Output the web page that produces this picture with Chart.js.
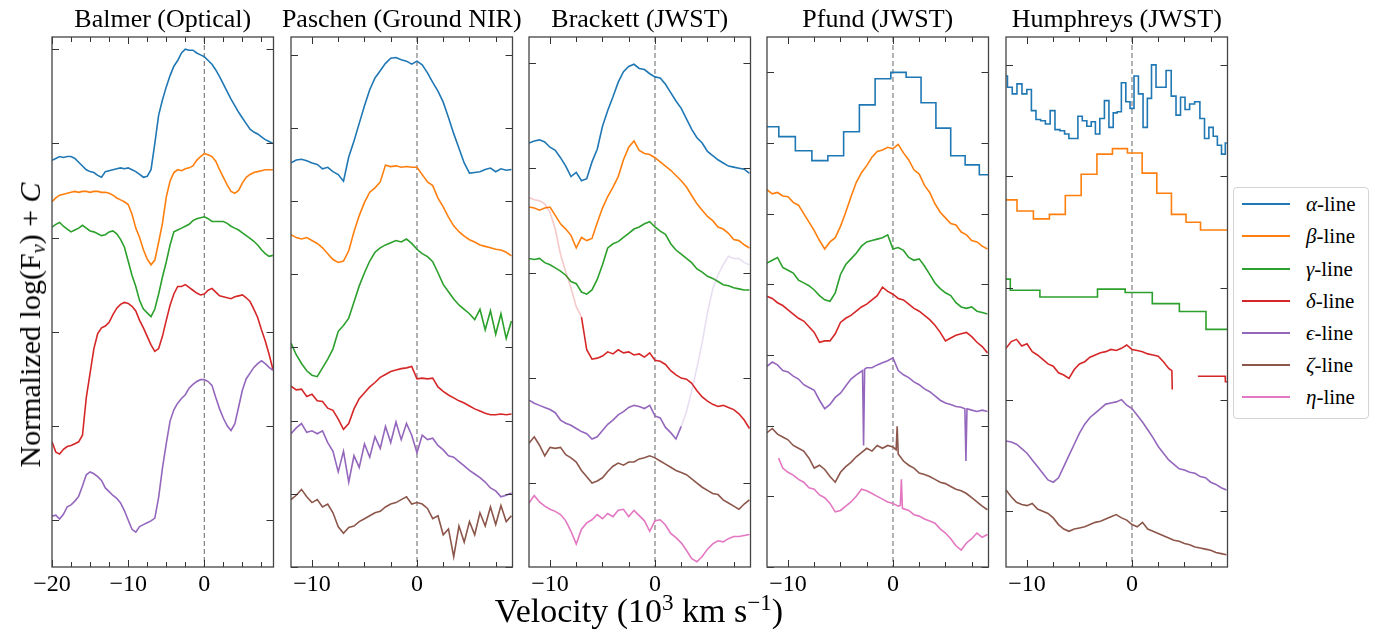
<!DOCTYPE html>
<html>
<head>
<meta charset="utf-8">
<script src="https://cdn.jsdelivr.net/npm/chart.js@4.4.1/dist/chart.umd.min.js"></script>
<style>
body { margin: 0; background: #fff; width: 1376px; height: 631px; position: relative; overflow: hidden; font-family: "Liberation Serif", serif; color: #000; }
canvas { position: absolute; top: 0; }
#xlabel { position: absolute; left: 339px; width: 600px; top: 594px; text-align: center; font-size: 34px; line-height: 1; white-space: nowrap; }
#ylabel { position: absolute; left: 30px; top: 325px; transform: translate(-50%, -50%) rotate(-90deg); font-size: 30px; line-height: 1; white-space: nowrap; }
sup { font-size: 0.68em; vertical-align: 0.5em; line-height: 0; }
sub { font-size: 0.68em; vertical-align: -0.25em; line-height: 0; }
#legend { position: absolute; left: 1233px; top: 187px; width: 134px; height: 230px; border: 1px solid #d4d4d4; border-radius: 4px; background: #fff; }
.row { position: absolute; left: 0; height: 32px; width: 134px; }
.sw { position: absolute; left: 8px; top: 15px; width: 48px; height: 2px; }
.lab { position: absolute; left: 72px; top: 4px; font-size: 21px; line-height: 24px; white-space: nowrap; }
</style>
</head>
<body>
<canvas id="c1" width="282" height="631" style="left:22px"></canvas>
<canvas id="c2" width="282" height="631" style="left:261px"></canvas>
<canvas id="c3" width="282" height="631" style="left:499px"></canvas>
<canvas id="c4" width="282" height="631" style="left:737px"></canvas>
<canvas id="c5" width="282" height="631" style="left:976px"></canvas>
<div id="xlabel">Velocity (10<sup>3</sup> km s<sup>−1</sup>)</div>
<div id="ylabel">Normalized log(F<sub><i>ν</i></sub>) + <i>C</i></div>
<div id="legend"></div>
<script>
const COLORS = ["#1f77b4", "#ff7f0e", "#2ca02c", "#d62728", "#9467bd", "#8c564b", "#e377c2"];
const FADED = { 3: "rgba(214,39,40,0.25)", 4: "rgba(148,103,189,0.22)" };
const lineNames = ["α", "β", "γ", "δ", "ϵ", "ζ", "η"];

// velocity grids (10^3 km/s)
const balmerV = [-20,-19.5,-19,-18.5,-18,-17.5,-17,-16.5,-16,-15.5,-15,-14.5,-14,-13.5,-13,-12.5,-12,-11.5,-11,-10.5,-10,-9.5,-9,-8.5,-8,-7.5,-7,-6.5,-6,-5.5,-5,-4.5,-4,-3.5,-3,-2.5,-2,-1.5,-1,-0.5,0,0.5,1,1.5,2,2.5,3,3.5,4,4.5,5,5.5,6,6.5,7,7.5,8,8.5,9];
const velGrid = [-12,-11.5,-11,-10.5,-10,-9.5,-9,-8.5,-8,-7.5,-7,-6.5,-6,-5.5,-5,-4.5,-4,-3.5,-3,-2.5,-2,-1.5,-1,-0.5,0,0.5,1,1.5,2,2.5,3,3.5,4,4.5,5,5.5,6,6.5,7,7.5,8,8.5,9];

// Balmer (Optical)
const balmerAlpha = [3.82,3.84,3.86,3.85,3.86,3.86,3.84,3.80,3.76,3.72,3.70,3.69,3.66,3.64,3.70,3.71,3.72,3.73,3.74,3.73,3.74,3.72,3.70,3.67,3.64,3.65,3.72,4.00,4.30,4.46,4.60,4.72,4.82,4.88,4.96,5.00,4.99,4.99,4.96,4.94,4.92,4.88,4.84,4.78,4.71,4.63,4.55,4.47,4.40,4.33,4.27,4.21,4.15,4.12,4.10,4.07,4.04,4.02,4.00];
const balmerBeta = [3.38,3.42,3.45,3.46,3.47,3.48,3.49,3.48,3.49,3.49,3.48,3.49,3.49,3.48,3.48,3.47,3.45,3.42,3.40,3.38,3.35,3.25,3.10,3.00,2.87,2.77,2.71,2.76,2.95,3.15,3.43,3.60,3.69,3.72,3.71,3.73,3.74,3.76,3.82,3.86,3.89,3.88,3.86,3.81,3.72,3.64,3.56,3.49,3.47,3.50,3.58,3.64,3.67,3.69,3.70,3.71,3.72,3.72,3.72];
const balmerGamma = [3.11,3.14,3.16,3.12,3.09,3.06,3.08,3.10,3.13,3.10,3.07,3.06,3.04,3.02,3.03,3.06,3.07,3.04,2.98,2.90,2.75,2.60,2.48,2.33,2.24,2.20,2.16,2.24,2.40,2.58,2.74,2.92,3.06,3.08,3.10,3.12,3.14,3.18,3.20,3.21,3.22,3.20,3.17,3.17,3.17,3.17,3.15,3.12,3.10,3.08,3.05,3.02,2.99,2.96,2.92,2.87,2.83,2.80,2.81];
const balmerDelta = [0.83,0.72,0.70,0.75,0.78,0.79,0.81,0.83,0.90,1.30,1.56,1.82,1.98,2.04,2.06,2.10,2.18,2.25,2.29,2.31,2.30,2.27,2.22,2.12,2.04,1.95,1.86,1.79,1.82,1.95,2.12,2.28,2.40,2.48,2.48,2.50,2.47,2.44,2.41,2.39,2.40,2.44,2.46,2.42,2.38,2.37,2.36,2.35,2.37,2.38,2.39,2.36,2.32,2.24,2.15,2.02,1.90,1.76,1.60];
const balmerEps = [0.04,0.05,0.01,0.06,0.14,0.16,0.20,0.25,0.36,0.48,0.51,0.49,0.46,0.42,0.34,0.30,0.26,0.23,0.18,0.10,0.00,-0.10,-0.13,-0.07,-0.05,-0.03,-0.01,0.02,0.24,0.55,0.81,1.05,1.17,1.24,1.29,1.33,1.40,1.44,1.47,1.49,1.49,1.47,1.43,1.30,1.18,1.08,1.00,0.95,1.02,1.20,1.38,1.50,1.56,1.62,1.66,1.69,1.66,1.62,1.59];

// Paschen (Ground NIR)
const paschenAlpha = [4.52,4.56,4.57,4.55,4.52,4.50,4.44,4.46,4.40,4.36,4.27,4.60,4.82,5.06,5.30,5.52,5.68,5.78,5.88,5.95,5.96,5.93,5.91,5.87,5.91,5.86,5.75,5.62,5.50,5.35,5.14,4.92,4.72,4.52,4.38,4.39,4.40,4.43,4.45,4.40,4.44,4.42,4.43];
const paschenBeta = [3.54,3.50,3.48,3.50,3.46,3.42,3.36,3.28,3.20,3.16,3.18,3.32,3.58,3.80,3.98,4.12,4.18,4.26,4.49,4.47,4.48,4.46,4.47,4.46,4.46,4.36,4.26,4.21,4.04,3.92,3.78,3.66,3.58,3.52,3.47,3.44,3.40,3.38,3.36,3.34,3.33,3.30,3.25];
const paschenGamma = [2.06,1.90,1.78,1.68,1.62,1.60,1.72,1.84,1.98,2.22,2.30,2.40,2.62,2.84,3.02,3.18,3.30,3.36,3.40,3.43,3.46,3.44,3.48,3.42,3.34,3.28,3.24,3.17,3.02,2.86,2.76,2.66,2.58,2.52,2.46,2.38,2.52,2.24,2.50,2.18,2.46,2.12,2.36];
const paschenDelta = [1.47,1.42,1.43,1.33,1.36,1.27,1.26,1.17,1.14,1.02,0.88,0.96,1.16,1.30,1.38,1.46,1.52,1.59,1.63,1.67,1.69,1.71,1.72,1.74,1.57,1.58,1.57,1.58,1.46,1.40,1.35,1.31,1.27,1.24,1.20,1.16,1.13,1.10,1.08,1.08,1.09,1.08,1.09];
const paschenEps = [0.82,0.90,0.96,0.84,0.86,0.82,0.86,0.70,0.58,0.30,0.58,0.16,0.52,0.36,0.68,0.50,0.78,0.62,0.92,0.70,0.98,0.74,0.96,0.80,0.56,0.80,0.74,0.76,0.66,0.60,0.52,0.50,0.44,0.38,0.32,0.27,0.22,0.16,0.08,0.04,-0.04,-0.02,0.01];
const paschenZeta = [-0.08,-0.02,0.06,-0.04,-0.12,-0.08,-0.18,-0.14,-0.26,-0.45,-0.54,-0.46,-0.44,-0.38,-0.34,-0.30,-0.26,-0.24,-0.18,-0.14,-0.12,-0.08,-0.04,-0.14,-0.12,-0.14,-0.20,-0.34,-0.30,-0.56,-0.48,-0.86,-0.44,-0.66,-0.38,-0.56,-0.26,-0.44,-0.18,-0.42,-0.16,-0.38,-0.30];

// Brackett (JWST)
const brackAlpha = [3.24,3.26,3.27,3.25,3.20,3.17,3.10,3.02,2.92,2.96,2.88,2.90,3.06,3.18,3.40,3.55,3.68,3.82,3.92,3.97,3.99,3.95,3.94,3.90,3.87,3.86,3.80,3.72,3.64,3.57,3.47,3.37,3.29,3.24,3.16,3.12,3.08,3.05,3.02,3.01,3.00,2.99,2.95];
const brackBeta = [2.63,2.62,2.60,2.62,2.63,2.55,2.47,2.42,2.36,2.24,2.34,2.31,2.33,2.48,2.62,2.73,2.82,2.92,3.08,3.20,3.26,3.17,3.14,3.13,3.10,3.06,3.02,2.98,2.93,2.88,2.82,2.74,2.66,2.60,2.54,2.50,2.44,2.42,2.38,2.32,2.31,2.27,2.24];
const brackGamma = [2.14,2.13,2.14,2.10,2.08,2.05,2.02,1.98,1.92,1.90,1.82,1.80,1.84,1.94,2.08,2.24,2.28,2.30,2.34,2.38,2.42,2.44,2.47,2.49,2.44,2.40,2.37,2.28,2.22,2.18,2.14,2.10,2.04,2.01,1.97,1.95,1.92,1.89,1.88,1.86,1.85,1.84,1.84];
const brackDeltaMasked = [2.72,2.70,2.69,2.66,2.58,2.42,2.18,2.01,1.86,1.68,1.58];
const brackDelta = [1.58,1.27,1.18,1.19,1.21,1.25,1.23,1.27,1.24,1.25,1.22,1.23,1.20,1.24,1.17,1.16,1.13,1.07,1.03,1.00,0.99,0.95,0.88,0.82,0.78,0.75,0.73,0.74,0.72,0.70,0.66,0.60,0.52];
const brackEps = [0.79,0.76,0.74,0.72,0.70,0.67,0.60,0.57,0.55,0.52,0.49,0.47,0.42,0.44,0.50,0.56,0.60,0.65,0.68,0.72,0.74,0.73,0.71,0.74,0.64,0.62,0.53,0.48,0.42,0.54];
const brackEpsMasked = [0.54,0.68,0.88,1.10,1.34,1.62,1.85,1.98,2.08,2.16,2.14,2.14,2.10,2.08];
const brackZeta = [0.38,0.44,0.36,0.26,0.34,0.33,0.34,0.27,0.24,0.20,0.12,0.06,0.00,0.02,0.05,0.11,0.16,0.19,0.17,0.20,0.20,0.23,0.24,0.26,0.24,0.21,0.18,0.15,0.12,0.10,0.08,0.04,0.00,-0.04,-0.07,-0.10,-0.11,-0.16,-0.19,-0.22,-0.25,-0.20,-0.16];
const brackEta = [-0.19,-0.12,-0.18,-0.22,-0.25,-0.27,-0.30,-0.36,-0.46,-0.58,-0.44,-0.38,-0.35,-0.30,-0.34,-0.29,-0.32,-0.26,-0.25,-0.32,-0.26,-0.31,-0.36,-0.46,-0.36,-0.35,-0.40,-0.48,-0.52,-0.57,-0.64,-0.72,-0.75,-0.70,-0.63,-0.58,-0.55,-0.56,-0.53,-0.51,-0.51,-0.50,-0.49];

// Pfund (JWST)
const pfundAlphaV = [-12.2,-11.65,-10.1,-8.5,-6.95,-5.45,-3.95,-2.45,-0.95,0.54,1.97,3.38,4.8,6.2,7.55,8.9,9.3];
const pfundAlpha = [5.23,5.23,5.09,4.89,4.75,4.82,5.16,5.54,5.91,6.00,5.93,5.57,5.21,4.82,4.69,4.55,4.55];
const pfundBeta = [4.34,4.28,4.30,4.25,4.24,4.16,4.12,4.00,3.88,3.76,3.62,3.50,3.60,3.66,3.82,4.02,4.24,4.44,4.58,4.68,4.80,4.88,4.90,4.94,4.92,4.98,4.86,4.76,4.62,4.56,4.40,4.30,4.14,4.02,3.94,3.86,3.84,3.74,3.70,3.62,3.60,3.54,3.50];
const pfundGamma = [3.30,3.34,3.38,3.24,3.20,3.16,3.06,3.02,2.98,2.92,2.84,2.78,2.76,2.88,3.14,3.28,3.36,3.44,3.54,3.60,3.62,3.64,3.66,3.70,3.50,3.52,3.48,3.38,3.34,3.36,3.26,3.14,3.02,2.94,2.88,2.84,2.74,2.68,2.66,2.68,2.62,2.60,2.58];
const pfundDelta = [2.83,2.80,2.74,2.70,2.64,2.58,2.52,2.48,2.40,2.32,2.18,2.20,2.20,2.30,2.46,2.52,2.56,2.62,2.68,2.72,2.78,2.84,2.96,2.90,2.86,2.80,2.78,2.72,2.66,2.62,2.56,2.50,2.42,2.32,2.20,2.24,2.28,2.30,2.32,2.26,2.18,2.12,2.03];
const pfundEpsV = [-12,-11.5,-11,-10.5,-10,-9.5,-9,-8.5,-8,-7.5,-7,-6.5,-6,-5.5,-5,-4.5,-4,-3.5,-2.9,-2.8,-2.7,-2.5,-2,-1.5,-1,-0.5,0,0.5,1,1.5,2,2.5,3,3.5,4,4.5,5,5.5,6,6.5,6.85,6.95,7.05,7.5,8,8.5,9];
const pfundEps = [1.84,1.90,1.86,1.78,1.76,1.70,1.66,1.58,1.54,1.50,1.36,1.24,1.30,1.40,1.46,1.56,1.66,1.72,1.78,0.72,1.80,1.82,1.82,1.86,1.89,1.92,1.96,1.78,1.72,1.68,1.62,1.58,1.52,1.48,1.42,1.36,1.32,1.30,1.27,1.26,1.24,0.50,1.24,1.22,1.20,1.22,1.20];
const pfundZetaV = [-12,-11.5,-11,-10.5,-10,-9.5,-9,-8.5,-8,-7.5,-7,-6.5,-6,-5.5,-5,-4.5,-4,-3.5,-3,-2.5,-2,-1.5,-1,-0.5,0,0.3,0.4,0.5,1,1.5,2,2.5,3,3.5,4,4.5,5,5.5,6,6.5,7,7.5,8,8.5,9];
const pfundZeta = [0.90,0.96,0.88,0.84,0.80,0.72,0.68,0.64,0.54,0.40,0.44,0.38,0.28,0.20,0.34,0.42,0.48,0.56,0.62,0.68,0.64,0.72,0.68,0.72,0.70,0.66,0.99,0.60,0.50,0.44,0.40,0.33,0.31,0.28,0.24,0.20,0.18,0.14,0.10,0.08,0.04,-0.02,-0.08,-0.14,-0.19];
const pfundEtaV = [-10.9,-10.5,-10,-9.5,-9,-8.5,-8,-7.5,-7,-6.5,-6,-5.5,-5,-4.5,-4,-3.5,-3,-2.5,-2,-1.5,-1,-0.5,0,0.5,0.7,0.8,0.9,1.5,2,2.5,3,3.5,4,4.5,5,5.5,6,6.5,7,7.5,8,8.5,9];
const pfundEta = [0.54,0.40,0.34,0.30,0.24,0.20,0.12,0.10,0.02,-0.02,-0.10,-0.22,-0.20,-0.14,-0.08,0.00,0.10,0.08,0.04,0.00,-0.04,-0.08,-0.10,-0.14,-0.13,0.24,-0.17,-0.20,-0.26,-0.28,-0.32,-0.35,-0.38,-0.46,-0.52,-0.60,-0.70,-0.76,-0.66,-0.60,-0.52,-0.58,-0.54];

// Humphreys (JWST)
const humAlphaV = [-12.1,-11.62,-11.19,-10.72,-10.24,-9.79,-9.37,-8.92,-8.48,-8.02,-7.57,-7.10,-6.62,-6.22,-5.80,-5.35,-4.95,-4.52,-4.08,-3.68,-3.29,-2.84,-2.41,-1.98,-1.59,-1.22,-0.80,-0.37,0.0,0.39,0.84,1.27,1.66,2.06,2.52,3.0,3.50,3.98,4.41,4.84,5.27,5.71,6.23,6.71,7.11,7.54,7.94,8.33,8.73,9.05,9.3];
const humAlpha = [3.90,3.80,3.74,3.83,3.74,3.78,3.59,3.51,3.50,3.47,3.59,3.42,3.41,3.38,3.34,3.34,3.54,3.50,3.45,3.49,3.38,3.52,3.68,3.44,3.57,3.58,3.84,3.67,3.61,3.90,3.74,3.44,3.70,4.00,3.80,3.80,3.95,3.72,3.55,3.71,3.60,3.65,3.67,3.52,3.34,3.44,3.36,3.28,3.20,3.30,3.30];
const humBetaV = [-12.2,-11.74,-10.16,-8.62,-7.11,-5.59,-4.09,-2.59,-1.13,0.27,1.67,3.06,4.46,5.84,7.22,8.65,9.3];
const humBeta = [2.79,2.79,2.69,2.62,2.66,2.83,3.02,3.20,3.25,3.21,3.03,2.85,2.66,2.59,2.52,2.52,2.52];
const humGammaV = [-13.02,-10.16,-7.38,-4.635,-1.935,0.64,3.23,5.8,8.3,9.3];
const humGamma = [2.08,1.98,1.92,1.92,1.99,1.96,1.86,1.79,1.63,1.63];
const humDeltaV = [-12,-11.5,-11,-10.5,-10,-9.5,-9,-8.5,-8,-7.5,-7,-6.5,-6,-5.5,-5,-4.5,-4,-3.5,-3,-2.5,-2,-1.5,-1,-0.5,0,0.5,1,1.5,2,2.5,3,3.5,3.8,3.84,5,6.28,8.88,8.9,9.3];
const humDelta = [1.46,1.52,1.54,1.48,1.50,1.43,1.40,1.36,1.32,1.30,1.24,1.22,1.19,1.27,1.32,1.34,1.38,1.40,1.42,1.43,1.45,1.44,1.46,1.49,1.45,1.44,1.43,1.41,1.40,1.39,1.34,1.28,1.26,1.09,null,1.21,1.21,1.16,1.16];
const humEps = [0.63,0.62,0.60,0.56,0.52,0.46,0.40,0.34,0.28,0.26,0.30,0.40,0.50,0.60,0.70,0.78,0.84,0.88,0.92,0.96,0.97,0.98,1.00,0.95,0.92,0.86,0.80,0.73,0.66,0.58,0.52,0.46,0.42,0.38,0.37,0.35,0.34,0.31,0.30,0.26,0.24,0.21,0.19];
const humZeta = [0.19,0.13,0.08,0.06,0.05,0.07,0.02,0.00,-0.02,-0.06,-0.12,-0.16,-0.18,-0.16,-0.15,-0.14,-0.12,-0.10,-0.09,-0.07,-0.05,-0.03,-0.06,-0.08,-0.12,-0.14,-0.10,-0.16,-0.18,-0.20,-0.22,-0.24,-0.26,-0.27,-0.29,-0.30,-0.32,-0.33,-0.34,-0.35,-0.37,-0.38,-0.39];

const panels = [
    { id: "c1", title: "Balmer (Optical)", xMin: -20, xMax: 9.08, yMin: -0.5, yMax: 5.13, series: [
        { k: 0, x: balmerV, y: balmerAlpha }, { k: 1, x: balmerV, y: balmerBeta }, { k: 2, x: balmerV, y: balmerGamma },
        { k: 3, x: balmerV, y: balmerDelta }, { k: 4, x: balmerV, y: balmerEps }] },
    { id: "c2", title: "Paschen (Ground NIR)", xMin: -12, xMax: 9.1, yMin: -1, yMax: 6.24, series: [
        { k: 0, x: velGrid, y: paschenAlpha }, { k: 1, x: velGrid, y: paschenBeta }, { k: 2, x: velGrid, y: paschenGamma },
        { k: 3, x: velGrid, y: paschenDelta }, { k: 4, x: velGrid, y: paschenEps }, { k: 5, x: velGrid, y: paschenZeta }] },
    { id: "c3", title: "Brackett (JWST)", xMin: -12, xMax: 9.1, yMin: -0.8, yMax: 4.25, series: [
        { k: 3, x: velGrid.slice(0, 11), y: brackDeltaMasked, faded: true },
        { k: 4, x: velGrid.slice(29), y: brackEpsMasked, faded: true },
        { k: 0, x: velGrid, y: brackAlpha }, { k: 1, x: velGrid, y: brackBeta }, { k: 2, x: velGrid, y: brackGamma },
        { k: 3, x: velGrid.slice(10), y: brackDelta }, { k: 4, x: velGrid.slice(0, 30), y: brackEps },
        { k: 5, x: velGrid, y: brackZeta }, { k: 6, x: velGrid, y: brackEta }] },
    { id: "c4", title: "Pfund (JWST)", xMin: -12, xMax: 9.1, yMin: -1, yMax: 6.5, series: [
        { k: 0, x: pfundAlphaV, y: pfundAlpha, binned: true }, { k: 1, x: velGrid, y: pfundBeta }, { k: 2, x: velGrid, y: pfundGamma },
        { k: 3, x: velGrid, y: pfundDelta }, { k: 4, x: pfundEpsV, y: pfundEps }, { k: 5, x: pfundZetaV, y: pfundZeta },
        { k: 6, x: pfundEtaV, y: pfundEta }] },
    { id: "c5", title: "Humphreys (JWST)", xMin: -12, xMax: 9.1, yMin: -0.5, yMax: 4.25, series: [
        { k: 0, x: humAlphaV, y: humAlpha, binned: true }, { k: 1, x: humBetaV, y: humBeta, binned: true },
        { k: 2, x: humGammaV, y: humGamma, binned: true },
        { k: 3, x: humDeltaV, y: humDelta }, { k: 4, x: velGrid, y: humEps }, { k: 5, x: velGrid, y: humZeta }] }
];

// frame, inward ticks, zero line and panel title
const panelFrame = {
    id: "panelFrame",
    beforeDatasetsDraw(chart) {
        const { ctx, chartArea: a, scales: { x } } = chart;
        const px = x.getPixelForValue(0);
        ctx.save();
        ctx.strokeStyle = "#808080";
        ctx.lineWidth = 1.2;
        ctx.setLineDash([5, 3]);
        ctx.beginPath();
        ctx.moveTo(px, a.top);
        ctx.lineTo(px, a.bottom);
        ctx.stroke();
        ctx.restore();
    },
    afterDatasetsDraw(chart) {
        const { ctx, chartArea: a, scales: { x, y } } = chart;
        ctx.save();
        ctx.strokeStyle = "#333";
        ctx.lineWidth = 1;
        ctx.beginPath();
        for (let v = Math.ceil(x.min / 2.5) * 2.5; v <= x.max; v += 2.5) {
            const p = Math.round(x.getPixelForValue(v)) + 0.5;
            const len = Math.abs(v % 10) < 1e-6 ? 7 : 5;
            ctx.moveTo(p, a.bottom); ctx.lineTo(p, a.bottom - len);
            ctx.moveTo(p, a.top); ctx.lineTo(p, a.top + len);
        }
        for (let v = Math.ceil(y.min); v <= y.max; v++) {
            const p = Math.round(y.getPixelForValue(v)) + 0.5;
            ctx.moveTo(a.left, p); ctx.lineTo(a.left + 7, p);
            ctx.moveTo(a.right, p); ctx.lineTo(a.right - 7, p);
        }
        ctx.stroke();
        ctx.strokeStyle = "#444";
        ctx.lineWidth = 1.3;
        ctx.strokeRect(a.left, a.top, a.width, a.height);
        ctx.restore();
    },
    afterDraw(chart, args, opts) {
        const { ctx, chartArea: a } = chart;
        ctx.save();
        ctx.fillStyle = "#000";
        ctx.font = '26px "Liberation Serif"';
        ctx.textAlign = "center";
        ctx.textBaseline = "middle";
        ctx.fillText(opts.title, (a.left + a.right) / 2, 20);
        ctx.restore();
    }
};

function toPoints(xs, ys) {
    return xs.map((v, i) => ({ x: v, y: ys[i] }));
}

for (const p of panels) {
    new Chart(document.getElementById(p.id), {
        type: "line",
        data: {
            datasets: p.series.map(s => ({
                data: toPoints(s.x, s.y),
                borderColor: s.faded ? FADED[s.k] : COLORS[s.k],
                borderWidth: 1.6,
                pointRadius: 0,
                stepped: s.binned ? "middle" : false,
                tension: 0,
                spanGaps: false,
                fill: false,
                order: -s.k
            }))
        },
        options: {
            responsive: false,
            animation: false,
            devicePixelRatio: 1,
            events: [],
            layout: { padding: { left: 30, right: 30.5, top: 37, bottom: 0 } },
            plugins: {
                legend: { display: false },
                tooltip: { enabled: false },
                panelFrame: { title: p.title }
            },
            scales: {
                x: {
                    type: "linear",
                    min: p.xMin,
                    max: p.xMax,
                    grid: { display: false, drawTicks: false },
                    border: { display: false },
                    afterFit: s => { s.height = 64; },
                    ticks: {
                        stepSize: 2.5,
                        includeBounds: false,
                        autoSkip: false,
                        maxRotation: 0,
                        minRotation: 0,
                        padding: 3,
                        color: "#000",
                        font: { family: "Liberation Serif", size: 24 },
                        callback: v => Math.abs(v % 10) < 1e-6 ? (v < 0 ? "−" + Math.abs(v) : String(Math.abs(v))) : ""
                    }
                },
                y: { type: "linear", display: false, min: p.yMin, max: p.yMax }
            }
        },
        plugins: [panelFrame]
    });
}

// legend
const legend = document.getElementById("legend");
lineNames.forEach((name, i) => {
    const row = document.createElement("div");
    row.className = "row";
    row.style.top = (0.3 + i * 32.1) + "px";
    row.innerHTML = '<span class="sw" style="background:' + COLORS[i] + '"></span><span class="lab"><i>' + name + "</i>-line</span>";
    legend.appendChild(row);
});
</script>
</body>
</html>
